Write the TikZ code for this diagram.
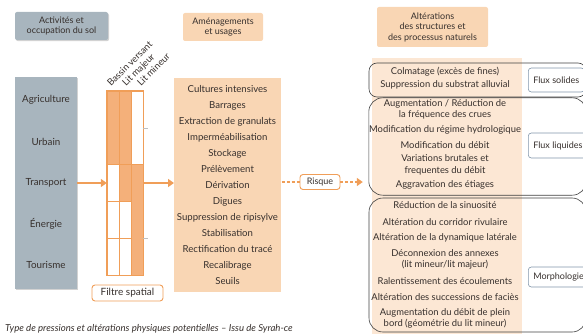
\documentclass[tikz,border=0pt]{standalone}
\usepackage{fontspec}
\setmainfont{Lato}
\usetikzlibrary{arrows.meta,positioning,calc,shadows}

\definecolor{slate}{RGB}{168,181,190}
\definecolor{peach}{RGB}{249,214,180}
\definecolor{peachlight}{RGB}{252,231,212}
\definecolor{tangerine}{RGB}{240,158,88}
\definecolor{filtfill}{RGB}{244,176,122}
\definecolor{ink}{RGB}{55,48,45}
\definecolor{tagline}{RGB}{130,150,170}

\begin{document}
\begin{tikzpicture}[x=1pt, y=-1pt,
  font=\fontsize{9}{10.5}\selectfont, text=ink,
  header/.style={rounded corners=2pt, align=center, inner sep=2pt, minimum height=28pt},
  slatebox/.style={fill=slate, drop shadow={shadow xshift=1pt, shadow yshift=-1.2pt, fill=black!35}},
  tagbox/.style={draw=tangerine, line width=0.9pt, fill=white, rounded corners=3pt, inner sep=2pt},
  flux/.style={draw=tagline, line width=0.6pt, fill=white, rounded corners=3pt, anchor=west, inner xsep=5pt},
  group/.style={draw=black!75, line width=0.6pt},
  item/.style={align=center, font=\fontsize{9.4}{11.5}\selectfont},
  arr/.style={-{Triangle[length=6pt, width=8pt]}, line width=2.4pt, tangerine},
  dasharr/.style={dash pattern=on 3pt off 2pt, line width=1.5pt, tangerine}
]
\useasboundingbox (0,0) rectangle (583,334);
\clip (0,0) rectangle (583,334);

% colonne des activites
\node[header, slatebox, minimum width=93pt] (hact) at (61.5,26) {Activités et\\occupation du sol};
\node[slatebox, minimum width=62pt, minimum height=212pt] (sol) at (46,183) {};
\foreach \act/\y in {Agriculture/100, Urbain/142, Transport/183, Énergie/224, Tourisme/265}
  \node[font=\fontsize{9.8}{11}\selectfont] at (46,\y) {\act};

% filtre spatial
\node[minimum width=36pt, minimum height=184pt, inner sep=0pt] (grille) at (125,183) {};
\foreach \c/\r/\h/\col in {0/0/2/filtfill, 1/0/2/filtfill, 2/0/2/white,
                           0/2/1/white, 1/2/1/filtfill, 2/2/3/filtfill,
                           0/3/1/white, 1/3/1/white, 0/4/1/white, 1/4/1/white}
  \draw[tangerine, line width=0.8pt, fill=\col] ({107+12*\c},{91+36.8*\r}) rectangle ++(12,{36.8*\h});
\draw[tangerine, line width=1.2pt] (grille.north west) rectangle (grille.south east);
\draw[black!25, line width=0.5pt] (143,128) -- ++(5,0) (143,238) -- ++(5,0);
\foreach \lbl/\x in {Bassin versant/111, Lit majeur/126, Lit mineur/141}
  \node[rotate=45, anchor=base west, inner sep=0pt, font=\fontsize{9.4}{10}\selectfont] at (\x,87) {\lbl};
\node[tagbox, minimum width=71pt, minimum height=16pt, font=\fontsize{10}{11}\selectfont] (filtre) at (127.5,293) {Filtre spatial};

\draw[arr] (sol.east) -- (grille.west);
\draw[arr, shorten >=3pt] (grille.east) -- (grille.east -| 177,0);

% amenagements et usages
\node[header, fill=peach, minimum width=80pt] (husages) at (223,27) {Aménagements\\et usages};
\node[fill=peach, minimum width=101pt, minimum height=214pt, align=center,
      font=\fontsize{9.6}{16}\selectfont] (usages) at (227.5,185)
  {Cultures intensives\\Barrages\\Extraction de granulats\\Imperméabilisation\\Stockage\\Prélèvement\\
   Dérivation\\Digues\\Suppression de ripisylve\\Stabilisation\\Rectification du tracé\\Recalibrage\\Seuils};

% risque
\node[tagbox, minimum width=40pt, minimum height=15pt] (risque) at (320,182) {Risque};
\draw[dasharr] (risque.west -| usages.east) -- (risque.west);

% alterations
\node[header, fill=peach, minimum width=111pt, minimum height=40pt] (halt) at (432.5,27)
  {Altérations\\des structures et\\des processus naturels};
\fill[peachlight] (372,58) rectangle (522,334);
\draw[group, rounded corners=8pt] (369,63) rectangle (586,97);
\node[minimum width=217pt, minimum height=97pt, inner sep=0pt] (alt2) at (477.5,146.5) {};
\draw[group, rounded corners=14pt] (alt2.north west) rectangle (alt2.south east);
\draw[group, rounded corners=14pt] (369,198) rectangle (586,332);
\draw[dasharr, -{Triangle[length=6pt, width=8pt]}, shorten >=6pt] (risque.east) -- (risque.east -| alt2.west);

\foreach \txt/\y in {Colmatage (excès de fines)/72, Suppression du substrat alluvial/85,
    {Augmentation / Réduction de\\la fréquence des crues}/109.5, Modification du régime hydrologique/130,
    Modification du débit/145, {Variations brutales et\\frequentes du débit}/165, Aggravation des étiages/185,
    Réduction de la sinuosité/205, Altération du corridor rivulaire/222,
    Altération de la dynamique latérale/238, {Déconnexion des annexes\\(lit mineur/lit majeur)}/259.5,
    Ralentissement des écoulements/281, Altération des successions de faciès/297,
    {Augmentation du débit de plein\\bord (géométrie du lit mineur)}/318.5}
  \node[item] at (445,\y) {\txt};

\node[flux, minimum height=24pt] (fsol) at (528,80) {Flux solides};
\node[flux, minimum height=25pt] (fliq) at (528,145.5) {Flux liquides};
\node[flux, minimum height=20pt] (morph) at (528,277) {Morphologie};

% legende
\node[anchor=base west, font=\fontsize{9.6}{10}\itshape, inner sep=0pt] (legende) at (5,331.5)
  {Type de pressions et altérations physiques potentielles – Issu de Syrah-ce};
\end{tikzpicture}
\end{document}
